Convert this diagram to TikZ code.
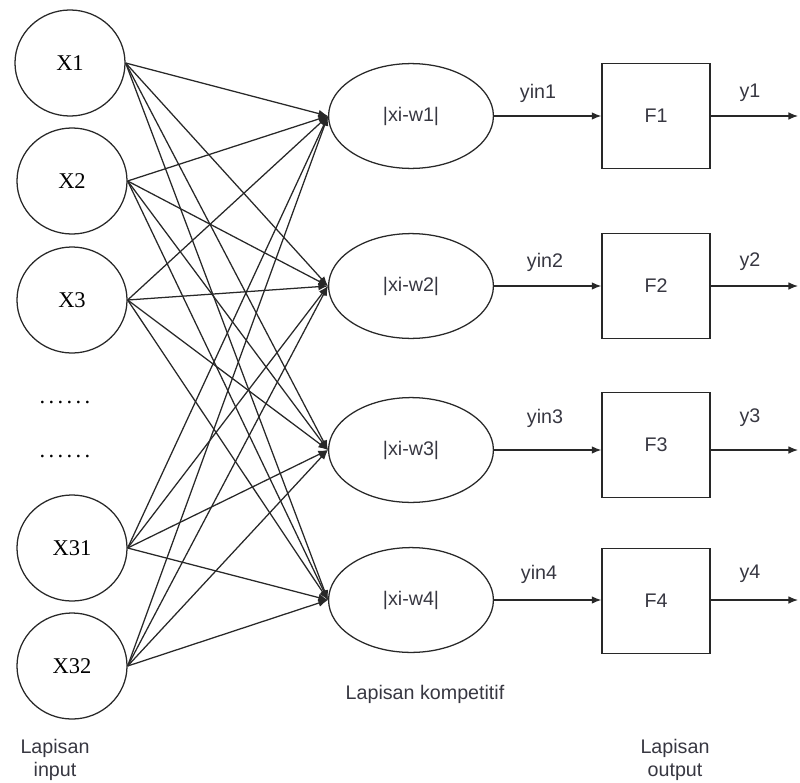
\documentclass[tikz,border=0pt]{standalone}
\usepackage{fontspec}
\setmainfont{Liberation Serif}
\setsansfont{Liberation Sans}
\usetikzlibrary{shapes.geometric,arrows.meta}
\definecolor{inkgray}{RGB}{40,40,40}
\definecolor{txtgray}{RGB}{55,55,65}
\newcommand{\rowdots}{.\hspace{2.4pt}.\hspace{2.4pt}.\hspace{2.4pt}.\hspace{2.4pt}.\hspace{2.4pt}.}

\begin{document}
\begin{tikzpicture}[x=0.025cm,y=-0.025cm,line width=0.9pt,
    innode/.style={draw=inkgray,ellipse,minimum width=2.75cm,minimum height=2.65cm,inner sep=0pt,font=\fontsize{16}{18}\selectfont},
    kompnode/.style={draw=inkgray,ellipse,minimum width=4.12cm,minimum height=2.62cm,inner sep=0pt,text=txtgray,font=\sffamily\fontsize{14}{16}\selectfont},
    outnode/.style={draw=inkgray,rectangle,minimum width=2.7cm,minimum height=2.62cm,inner sep=0pt,text=txtgray,font=\sffamily\fontsize{14}{16}\selectfont},
    lbl/.style={text=txtgray,font=\sffamily\fontsize{14}{16}\selectfont},
    conn/.style={draw=inkgray,-{Latex[length=2.4mm,width=1.9mm]}}]

    % Define the frame as the bounding box
    \useasboundingbox (0,0) rectangle (800,782);

    % input layer
    \node[innode] (x1)  at (70,63)  {X1};
    \node[innode] (x2)  at (72,181) {X2};
    \node[innode] (x3)  at (72,300) {X3};
    \node[innode] (x31) at (72,548) {X31};
    \node[innode] (x32) at (72,666) {X32};

    \node[font=\fontsize{16}{18}\selectfont] (dots1) at (65,402) {\rowdots};
    \node[font=\fontsize{16}{18}\selectfont] (dots2) at (65,456) {\rowdots};

    % competitive layer
    \node[kompnode] (w1) at (411,116) {|xi-w1|};
    \node[kompnode] (w2) at (411,286) {|xi-w2|};
    \node[kompnode] (w3) at (411,450) {|xi-w3|};
    \node[kompnode] (w4) at (411,600) {|xi-w4|};

    % output layer
    \node[outnode] (f1) at (656,116) {F1};
    \node[outnode] (f2) at (656,286) {F2};
    \node[outnode] (f3) at (656,445) {F3};
    \node[outnode] (f4) at (656,601) {F4};

    \coordinate (o1) at (798,116);
    \coordinate (o2) at (798,286);
    \coordinate (o3) at (798,450);
    \coordinate (o4) at (798,600);

    % connections input -> competitive
    \draw[conn] (x1.east) -- (w1.west);
    \draw[conn] (x1.east) -- (w2.west);
    \draw[conn] (x1.east) -- (w3.west);
    \draw[conn] (x1.east) -- (w4.west);

    \draw[conn] (x2.east) -- (w1.west);
    \draw[conn] (x2.east) -- (w2.west);
    \draw[conn] (x2.east) -- (w3.west);
    \draw[conn] (x2.east) -- (w4.west);

    \draw[conn] (x3.east) -- (w1.west);
    \draw[conn] (x3.east) -- (w2.west);
    \draw[conn] (x3.east) -- (w3.west);
    \draw[conn] (x3.east) -- (w4.west);

    \draw[conn] (x31.east) -- (w1.west);
    \draw[conn] (x31.east) -- (w2.west);
    \draw[conn] (x31.east) -- (w3.west);
    \draw[conn] (x31.east) -- (w4.west);

    \draw[conn] (x32.east) -- (w1.west);
    \draw[conn] (x32.east) -- (w2.west);
    \draw[conn] (x32.east) -- (w3.west);
    \draw[conn] (x32.east) -- (w4.west);

    % competitive -> output
    \draw[conn] (w1.east) -- (w1.east -| f1.west);
    \draw[conn] (w2.east) -- (w2.east -| f2.west);
    \draw[conn] (w3.east) -- (w3.east -| f3.west);
    \draw[conn] (w4.east) -- (w4.east -| f4.west);

    \draw[conn] (f1.east |- o1) -- (o1);
    \draw[conn] (f2.east |- o2) -- (o2);
    \draw[conn] (f3.east |- o3) -- (o3);
    \draw[conn] (f4.east |- o4) -- (o4);

    % labels
    \node[lbl] (yin1) at (538,93)  {yin1};
    \node[lbl] (yin2) at (545,262) {yin2};
    \node[lbl] (yin3) at (545,418) {yin3};
    \node[lbl] (yin4) at (539,574) {yin4};

    \node[lbl] (y1) at (750,93)  {y1};
    \node[lbl] (y2) at (750,262) {y2};
    \node[lbl] (y3) at (750,418) {y3};
    \node[lbl] (y4) at (750,574) {y4};

    \node[lbl] (kompt) at (425,694) {Lapisan kompetitif};
    \node[lbl,align=center] (inpt) at (55,760) {Lapisan\\input};
    \node[lbl,align=center] (outpt) at (675,760) {Lapisan\\output};

\end{tikzpicture}
\end{document}
